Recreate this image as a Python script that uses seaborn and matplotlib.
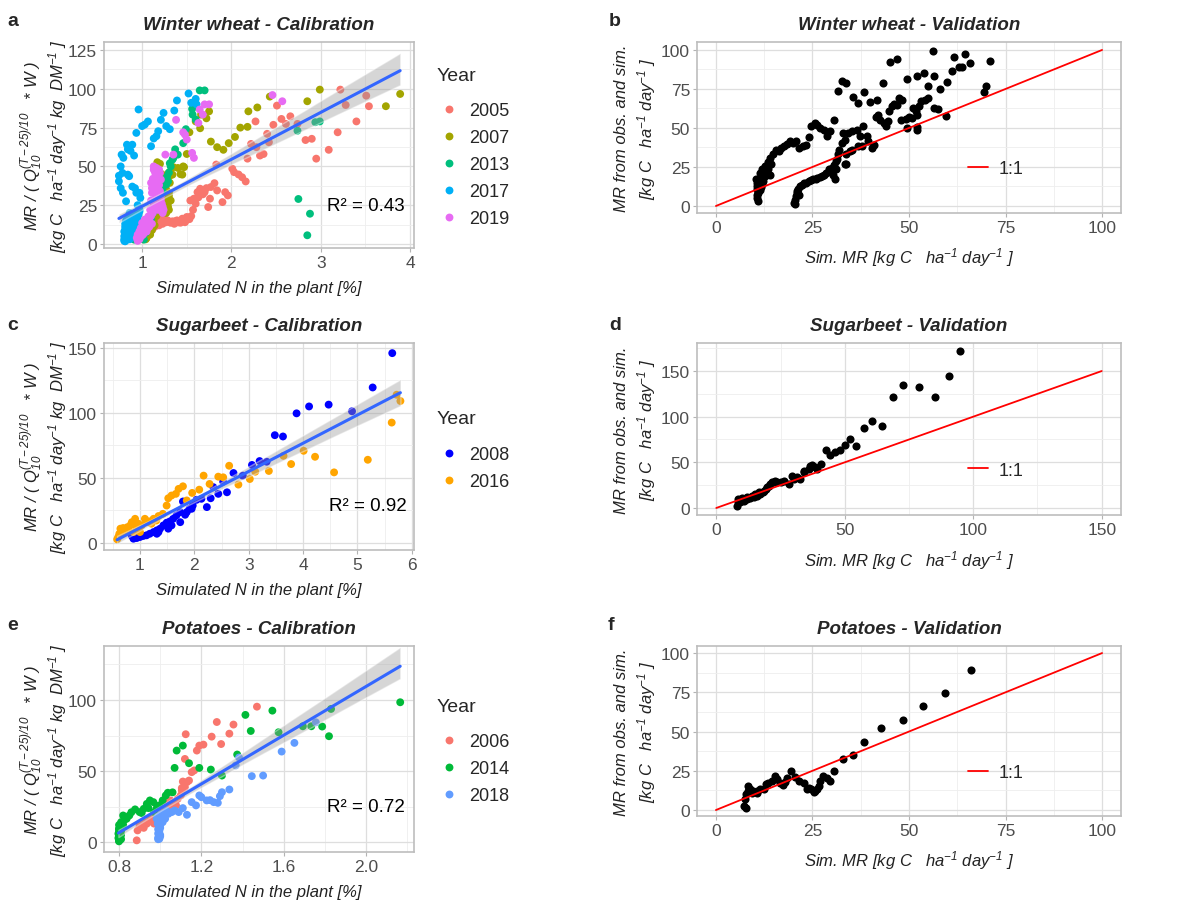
import numpy as np
import pandas as pd
import matplotlib
matplotlib.use("Agg")
import matplotlib.pyplot as plt
import seaborn as sns
from matplotlib.ticker import MultipleLocator

# ---------------- data: Winter wheat calibration (Simulated N [%], MR normalised) ----------------
ww_years = ["2005", "2007", "2013", "2017", "2019"]
ww_colors = ["#F8766D", "#A3A500", "#00BF7D", "#00B0F6", "#E76BF3"]
ww_2005_x = [3.22, 3.28, 3.51, 3.54, 3.40, 3.19, 3.09, 2.95, 2.90, 2.83, 2.74, 2.66, 2.61, 2.56, 2.51,
             2.47, 2.42, 2.40, 2.36, 2.32, 2.27, 2.28, 2.22, 2.18, 2.16, 2.12, 2.08, 2.03, 2.01, 1.96,
             1.93, 1.90, 1.84, 1.81, 1.77, 1.76, 1.74, 1.70, 1.65, 1.62, 1.58, 1.54, 1.83, 1.50, 1.45,
             1.39, 1.34, 1.28, 1.24, 1.20, 1.17, 1.13, 1.09, 1.06, 1.49, 1.43, 1.37, 1.32,
             1.21, 1.26, 1.34, 1.40, 1.47, 1.52,
             1.08, 1.10, 1.12, 1.15, 1.18, 1.22, 1.25, 1.29, 1.31, 1.36, 1.41, 1.44, 1.48, 1.53, 1.55,
             1.57, 1.60, 1.63, 1.68, 1.72,
             1.05, 1.07, 1.11, 1.14, 1.16, 1.19, 1.23, 1.27]
ww_2005_y = [99.5, 89.6, 95.6, 88.8, 79, 72, 60.7, 55, 67.8, 67, 77.4, 82.3, 77.4, 80.6, 89.2,
             76.8, 65.6, 71, 58, 57, 79, 62.4, 64.5, 55, 40.3, 43, 44.8, 46.3, 48.5, 31.3,
             33.4, 27, 34.5, 39.2, 36.7, 29.2, 23.8, 33.4, 35.6, 33.4, 29.2, 28, 51.2, 17.4, 16.3,
             15.2, 14.2, 15.2, 16.3, 18.4, 15.2, 12, 8.8, 5.6, 15.2, 13.7, 14.6, 13.7,
             14.6, 15.7, 14.6, 14.0, 14.6, 16.8,
             7, 10, 12, 14, 16, 17, 16, 15, 14, 13, 14, 15, 14, 16, 18,
             22, 26, 30, 32, 36,
             4, 6, 9, 11, 13, 12, 13, 14]
ww_2007_x = [2.43, 2.85, 2.99, 3.89, 3.73, 2.18, 2.29, 2.19, 2.10, 2.04, 1.97, 1.91, 1.84, 1.77, 1.75,
             1.72, 1.65, 1.53, 1.50, 1.46, 1.43, 1.35, 1.31, 1.30, 1.28, 1.26, 1.22, 1.20, 1.17, 1.02,
             1.06, 1.11, 1.15, 1.24, 1.19, 1.07, 1.66, 1.60, 1.40, 1.45, 1.47, 1.34, 1.31, 1.30, 1.29,
             1.25, 1.27, 1.28, 1.22, 1.30, 1.12, 1.09,
             1.03, 1.05, 1.08, 1.10, 1.13, 1.16, 1.18, 1.20, 1.22, 1.24, 1.26, 1.28, 1.30, 1.32, 1.29,
             1.27, 1.04, 1.07,
             1.01, 1.03, 1.05, 1.09, 1.11, 1.14]
ww_2007_y = [95, 92, 99.5, 96.7, 88.8, 75.5, 88, 85.5, 75, 69, 65, 60.7, 62.4, 66, 85.5,
             81, 74.6, 72, 58, 50, 45, 49.5, 44, 31, 26, 20.6, 37.7, 51.7, 52.7, 4.5,
             9.9, 14, 18.4, 20.6, 26, 7.7, 83.4, 79, 49, 44.7, 49.5, 44.7, 39.4, 33, 26.5,
             30, 35, 40, 45, 22, 11, 6,
             6, 8, 10, 12, 15, 18, 22, 25, 28, 32, 36, 42, 46, 28, 24,
             20, 3, 12,
             3, 5, 4, 8, 9, 12]
ww_2013_x = [1.645, 1.70, 1.565, 1.60, 1.56, 1.49, 1.46, 1.37, 1.40, 1.35, 1.34, 1.31, 1.28, 1.29, 1.27,
             1.18, 1.17, 1.16, 1.06, 1.04, 1.02, 0.91, 2.74, 2.94, 2.99, 2.75, 2.88, 2.85,
             1.00, 1.05, 1.10, 1.12, 1.20, 1.23, 1.25, 1.30, 1.32]
ww_2013_y = [99, 99, 83.4, 80.2, 87, 74, 65, 61, 57.6, 55.5, 54.4, 52, 43.6, 40.4, 38.3,
             31.8, 26.5, 23, 15.7, 7.1, 2.8, 2.8, 73, 78.5, 79, 29, 19.5, 5.6,
             5, 10, 16, 20, 28, 34, 38, 46, 50]
ww_2017_x = [0.96, 0.935, 1.03, 1.065, 1.0, 1.10, 1.13, 1.16, 1.18, 1.21, 1.24, 1.27, 1.31, 1.36, 1.39,
             1.52, 1.55, 1.60, 1.61, 0.83, 0.89, 0.84, 0.87, 0.91, 0.77, 0.79, 0.76, 0.78, 0.74, 0.84,
             0.855, 0.74, 0.76, 0.785, 0.82, 0.89, 0.92, 0.935, 0.97, 0.98, 0.95, 0.95, 0.92, 0.89, 0.855,
             0.84, 0.82, 0.82, 0.81, 0.82, 0.83, 0.87, 0.90, 0.94, 0.97, 0.80,
             0.83, 0.85, 0.86, 0.88, 0.90, 0.92, 0.84, 0.81, 0.86, 0.88,
             0.80, 0.81, 0.82, 0.83, 0.84, 0.85, 0.86, 0.87, 0.88, 0.89, 0.90, 0.91, 0.82, 0.83, 0.84,
             0.85, 0.86, 0.80, 0.81, 0.82, 0.85, 0.87, 0.89, 0.91, 0.93, 0.95, 0.96, 0.97,
             0.80, 0.81, 0.82, 0.83, 0.84, 0.86, 0.87, 0.88, 0.90, 0.92, 0.93, 0.94, 0.81, 0.83, 0.85,
             0.87, 0.89, 0.91]
ww_2017_y = [86.7, 71.6, 77, 79, 76, 63, 68, 69.5, 72.7, 80, 84.5, 76, 74, 86, 92.5,
             97, 91, 93.5, 90, 64, 64, 61, 60, 57, 57.6, 55.5, 50, 45.8, 44, 44.7,
             43.7, 40.4, 36, 33, 27.5, 37, 36, 33, 33, 29.7, 25, 20, 15.7, 13.5, 11.4,
             8.2, 5, 2.8, 1.7, 7.1, 10.3, 14.6, 16.8, 19, 22, 5,
             12, 9, 6, 4, 8, 11, 3, 9, 15, 18,
             3, 4, 6, 7, 9, 10, 12, 13, 15, 16, 17, 18, 12, 14, 16,
             18, 20, 8, 11, 15, 5, 8, 10, 13, 14, 17, 19, 21,
             2, 5, 4, 9, 6, 3, 7, 5, 6, 9, 12, 15, 13, 11, 14,
             11, 13, 10]
ww_2019_x = [1.38, 1.46, 1.48, 1.50, 1.56, 1.58, 1.645, 1.68, 1.70, 1.75, 1.63, 1.26, 1.35, 1.13, 1.16,
             1.19, 1.14, 1.20, 1.10, 1.11, 1.17, 1.21, 1.16, 1.21, 1.15, 1.18, 1.12, 1.07, 1.03, 1.0,
             0.985, 0.97, 0.95, 0.94, 1.016, 1.05, 1.08, 1.24, 1.23, 2.46, 2.57,
             0.96, 0.98, 1.00, 1.02, 1.04, 1.06, 1.08, 1.10, 1.12, 1.13, 1.14, 1.15, 1.16, 1.17, 1.18,
             1.19, 1.20, 1.21, 1.22, 1.23, 1.15, 1.13, 1.12, 1.11, 1.10, 1.09, 1.05, 1.01, 0.97, 1.18,
             0.95, 0.97, 0.99, 1.02, 1.04, 1.06, 1.08, 1.11]
ww_2019_y = [80, 72, 70.5, 67.3, 58.7, 55.5, 86.7, 83.4, 90, 90, 78, 57.6, 57.6, 50, 49,
             48, 46.9, 45.8, 39.4, 33, 37.2, 41.5, 30.8, 28.6, 25.4, 22, 20, 17.8, 15.7, 13.5,
             10.3, 8.2, 6, 3.9, 11.4, 12.5, 14.6, 22, 20, 96, 92,
             5, 7, 9, 10, 12, 14, 16, 18, 22, 25, 28, 32, 35, 40, 43,
             38, 34, 31, 26, 24, 45, 48, 42, 36, 28, 22, 8, 6, 4, 30,
             2, 3, 5, 7, 8, 10, 11, 13]

# ---------------- Winter wheat validation ----------------
ww_val_sim = [10.5, 10.6, 10.7, 10.6, 10.8, 10.7, 10.75, 10.8, 11.0, 11.2, 11.0, 11.4, 11.6, 11.9, 11.3,
              11.6, 12.0, 12.3, 12.6,
              11.3, 12.0, 12.8, 13.4, 13.9, 14.7, 15.6, 16.3, 16.9, 17.7, 18.4, 19.2, 19.9, 20.7, 21.6,
              22.6, 23.3, 24.0, 24.6, 25.6, 26.3, 27.0, 28.0, 28.7, 29.5, 30.6, 13.0, 13.5, 14.2, 14.0,
              20.3, 20.7, 21.0, 21.8, 22.9, 24.0, 25.2, 26.3, 27.4, 28.6, 29.3, 30.0, 30.5, 30.8, 31.2,
              31.6, 31.95, 32.7, 33.3, 33.7, 20.5, 20.9, 21.3, 22.3, 23.4, 24.6, 25.8, 26.9, 28.0, 29.8,
              30.3, 31.0, 31.4, 20.4, 21.5,
              31.7, 32.7, 33.8, 35.5, 36.8, 38.4, 40.0, 41.7, 43.2, 45.1, 47.0, 49.4, 52.0, 53.9, 56.2,
              56.4, 55.0, 57.9, 59.8, 61.1, 61.7, 62.9, 63.8, 64.4, 65.8, 70.9, 69.9, 69.5,
              33.0, 34.2, 35.3, 36.5, 37.2, 38.2, 39.2, 40.5, 41.0, 41.4, 42.1, 42.6, 43.6, 44.0, 44.5,
              44.9, 45.5, 46.1, 47.0, 47.4, 48.3, 47.9, 49.1, 50.0, 50.8, 49.6, 52.1, 52.2, 51.1, 51.8,
              52.6, 53.0, 54.1, 54.9, 52.2, 56.6, 57.5, 37.9, 39.5, 36.7, 35.3, 34.6, 33.8, 33.3, 59.6]
ww_val_obs = [17, 15, 13, 11, 9, 7, 5, 3.2, 12, 14, 8, 16, 18, 20, 10,
              12, 14, 16, 19,
              21.3, 23.4, 25.5, 28, 30.8, 33, 36, 35, 37, 38.7, 40, 41.5, 40.4, 41.5, 37,
              38.3, 39.4, 44, 51, 53, 52, 50, 49, 44.7, 48, 55, 22, 24, 27, 20,
              2.1, 6.4, 9.6, 12.8, 14.9, 16, 17, 18, 19, 21, 23.4, 24.5, 26, 17, 28.7,
              33, 36, 40.4, 42.5, 26.6, 4, 8, 11, 13.5, 15, 16.5, 17.5, 18.5, 20, 22,
              20, 24, 30, 1, 7,
              73.4, 80.4, 79, 70, 66, 73, 66.8, 68, 78.7, 92, 94.3, 81.5, 83, 85.5, 99.6,
              83, 76.6, 75, 79.6, 86.2, 95.3, 89, 89, 97.2, 91.5, 93.2, 77, 72.8,
              46.8, 46.8, 47.9, 49, 44.7, 51, 44.7, 37.2, 39.4, 57, 58.5, 55.3, 53.2, 51, 54.3,
              61, 63.8, 65.3, 65, 69, 68, 55.3, 56, 57, 56.2, 50, 50.6, 49, 62.8, 61,
              64.3, 67, 68, 69.1, 58.5, 62.8, 62, 38.7, 41.5, 38.7, 36, 35, 33, 26.6, 57.4]

# ---------------- Sugarbeet calibration ----------------
sb_years = ["2008", "2016"]
sb_colors = ["#0000FF", "#FFA500"]
sb_2008_x = [5.64, 5.28, 4.90, 4.47, 4.11, 3.88, 3.63, 3.48, 3.33, 3.20, 3.06, 2.89, 2.72, 2.60, 2.53,
             2.44, 2.35, 2.30, 2.23, 2.13, 2.04, 1.97, 1.91, 1.86, 1.79, 1.74, 1.67, 1.61, 1.55, 1.49,
             1.43, 1.37, 1.31, 1.25, 1.18, 1.12, 1.06, 1.00, 0.94, 0.88, 0.85, 1.31, 1.34, 1.52, 1.58,
             1.74, 1.83, 1.95]
sb_2008_y = [146, 119.6, 101.3, 106.4, 105, 99.7, 81.9, 82.9, 62.5, 63, 60, 51.8, 53.8, 39, 47.2,
             37.8, 42.9, 34.4, 27.6, 34, 33.2, 28.8, 26.3, 23.7, 31.9, 23.7, 21.2, 18.6, 16.6, 15.6,
             13.5, 11, 9.7, 8.4, 7.1, 5.9, 5.4, 4.6, 3.8, 3.3, 5.4, 7.1, 8.4, 11, 13.5,
             16, 21.7, 26.3]
sb_2016_x = [5.79, 5.72, 5.63, 5.19, 4.57, 4.22, 4.01, 3.78, 3.64, 3.37, 3.12, 3.02, 2.81, 2.64, 2.53,
             2.44, 2.28, 2.17, 2.09, 1.96, 1.86, 1.79, 1.71, 1.66, 1.58, 1.52, 1.49, 1.42, 1.34, 1.25,
             1.17, 1.09, 1.03, 0.97, 0.91, 0.83, 0.78, 0.72, 0.66, 0.62, 0.60, 0.58, 0.64, 0.69, 0.77,
             0.85, 0.94, 1.12, 1.21, 1.30, 1.00, 0.88]
sb_2016_y = [109.2, 114, 92.6, 64, 54.3, 66.3, 70.9, 60.7, 67, 55.4, 54.8, 49.2, 44.9, 59.4, 50.5,
             51, 45.4, 51.8, 41, 38.5, 32.7, 43.6, 41.6, 37.8, 36.5, 34.4, 28.8, 22.4, 20.7, 18.6,
             16.6, 18.6, 13.5, 14.8, 18.6, 14, 11, 9.7, 8.4, 7.1, 4.6, 2.8, 11, 11.5, 12.2,
             16, 12.2, 16, 14.8, 17.3, 8.4, 8.4]

# ---------------- Sugarbeet validation ----------------
sb_val_sim = [94.8, 90.5, 85.1, 79.0, 72.8, 68.7, 64.6, 60.7, 57.3, 54.5, 52.1, 50.2, 48.0, 46.3, 44.4,
              42.6, 40.8, 39.2, 37.4, 36.0, 34.3, 32.7, 31.4, 29.5, 28.2, 26.3, 25.0, 23.0, 21.7, 20.4,
              19.4, 18.2, 17.2, 15.9, 14.6, 13.3, 12.0, 10.7, 9.4, 8.4, 8.2, 8.4, 10.0, 11.8, 14.0,
              15.2, 16.6, 18.5, 19.8, 21.1, 22.4, 23.7, 30.1, 34.0, 36.6, 38.5]
sb_val_obs = [172, 145, 122, 133, 135, 122, 90, 95, 87.6, 68, 75.5, 69, 64, 61, 58.4,
              64, 48.5, 42.7, 47.4, 42.7, 40.9, 31.8, 33.6, 35.4, 26.3, 30, 28, 30, 28, 24.5,
              20.8, 17.9, 15.3, 13.5, 11.7, 10.6, 9.9, 8, 6.9, 6.2, 2.6, 9.9, 10.6, 11.7, 13.5,
              15.3, 17.2, 19, 22.6, 26.3, 28, 28, 31.8, 39, 46.3, 44.5]

# ---------------- Potatoes calibration ----------------
po_years = ["2006", "2014", "2018"]
po_colors = ["#F8766D", "#00BA38", "#619CFF"]
po_2006_x = [0.886, 0.89, 0.90, 0.92, 0.935, 0.95, 0.964, 0.98, 0.99, 1.016, 1.03, 1.05, 1.064, 1.077, 1.085,
             1.10, 1.105, 1.11, 1.13, 1.14, 1.153, 1.165, 1.178, 1.19, 1.21, 1.12, 1.124, 1.25, 1.275, 1.296,
             1.336, 1.356, 1.47, 1.105, 1.12, 1.007, 1.03, 1.05,
             0.90, 0.92, 0.94, 0.96, 0.97]
po_2006_y = [1.2, 8.2, 10.5, 14, 12.9, 15.7, 17.6, 18.7, 25.3, 25.8, 28, 29.3, 27.6, 25.8, 30.4,
             32.8, 38, 42.6, 42.2, 43.3, 49.2, 50.4, 64.4, 67.9, 68.6, 58.5, 75.9, 74.2, 84.5, 69,
             76.3, 82.7, 95.3, 36.3, 38.6, 23, 24.6, 23.4,
             12, 10, 14, 16, 13]
po_2014_x = [2.166, 1.83, 1.82, 1.787, 1.734, 1.693, 1.575, 1.545, 1.44, 1.414, 1.374, 1.30, 1.246, 1.19, 1.14,
             1.11, 1.08, 1.07, 1.06, 1.037, 1.027, 1.012, 0.996, 0.983, 0.967, 0.95, 0.935, 0.92, 0.91, 0.90,
             0.878, 0.86, 0.85, 0.837, 0.824, 0.81, 0.80, 0.797, 0.797, 0.80, 0.805, 0.82, 0.943, 0.97,
             0.80, 0.80, 0.80, 0.80, 0.81, 0.81, 0.82, 0.80,
             0.80, 0.80, 0.81, 0.80, 0.81]
po_2014_y = [98.4, 93.7, 74.5, 81.3, 81.5, 81.5, 77.3, 92.5, 78.2, 89.5, 61.6, 46.8, 51, 52.2, 55.5,
             67.9, 64.4, 52.2, 35, 34.7, 32.8, 29.3, 25.8, 23.9, 28.1, 29.3, 26.9, 23.4, 20.4, 21.1,
             23, 21, 18.7, 16.4, 15.2, 14, 9.4, 5.9, 2.8, 0.5, 11.7, 18.7, 23.9, 21.1,
             3, 6, 9, 12, 2, 8, 12, 1,
             4, 7, 5, 2, 10]
po_2018_x = [1.756, 1.652, 1.59, 1.50, 1.445, 1.383, 1.367, 1.336, 1.30, 1.29, 1.28, 1.26, 1.242, 1.226, 1.20,
             1.19, 1.174, 1.153, 1.13, 1.11, 1.09, 1.07, 1.056, 1.04, 1.024, 1.012, 1.00, 0.996, 0.996, 0.996,
             1.00, 0.983, 0.988, 1.016, 1.03,
             0.99, 0.99, 0.99, 1.00, 1.00, 0.995, 1.00, 1.005, 0.99,
             0.99, 1.00, 0.995, 1.00]
po_2018_y = [84.3, 69.8, 63.7, 46.8, 46.4, 59.5, 53.9, 37, 35.1, 32.3, 27.6, 28.1, 29.5, 29.3, 31.6,
             32.8, 25.8, 28.1, 19.2, 23.9, 21.1, 22.2, 21.1, 19.9, 16.4, 14, 11.7, 8.2, 4.7, 2.3,
             18.7, 16.4, 12.9, 19.9, 22.2,
             3, 6, 9, 5, 14, 11, 16, 20, 18,
             2, 4, 7, 10]

# ---------------- Potatoes validation ----------------
po_val_sim = [66.0, 59.3, 53.5, 48.4, 42.8, 38.4, 35.6, 33.0, 30.7, 29.6, 28.7, 27.8, 27.0, 26.1, 25.3,
              24.6, 24.0, 22.8, 21.6, 20.5, 19.4, 18.4, 17.3, 16.6, 15.3, 14.5, 13.6, 12.5, 11.5, 10.6,
              9.7, 8.9, 8.3, 7.8, 7.6, 7.3, 7.7, 8.4, 9.3, 10.6, 13.0, 15.8, 17.9, 23.5, 25.7, 26.6]
po_val_obs = [89.4, 74.7, 66.4, 57.2, 52.3, 43.6, 35.1, 32.6, 24.9, 18.5, 20.6, 21.7, 18.5, 13.2, 11.5,
              13.2, 14.3, 17.4, 18.5, 21.3, 24.9, 20.6, 15.7, 17.4, 21.7, 18.5, 17.4, 13.2, 13.2, 12.1,
              12.1, 13.6, 12.1, 10.0, 6.8, 2.6, 1.5, 15.3, 11.0, 11.0, 16.4, 19.6, 17.9, 13.6, 12.1, 15.3]

# 1:1 reference lines
one_to_one_100 = [0, 100]
one_to_one_150 = [0, 150]

r2_labels = ["R² = 0.43", "R² = 0.92", "R² = 0.72"]

# ---------------- styling ----------------
sns.set_theme(style="whitegrid")
plt.rcParams["font.family"] = ["Liberation Sans", "DejaVu Sans"]
plt.rcParams["mathtext.fontset"] = "custom"
plt.rcParams["mathtext.rm"] = "Liberation Sans:italic"
plt.rcParams["mathtext.it"] = "Liberation Sans:italic"
plt.rcParams["mathtext.default"] = "regular"

W, H = 1198, 903
TICK_C = "#4D4D4D"


def box(l, t, r, b):
    return [l / W, 1 - b / H, (r - l) / W, (b - t) / H]


def frame(ax, xlim, ylim, xmaj, xmin, ymaj, ymin):
    ax.set_xlim(*xlim)
    ax.set_ylim(*ylim)
    ax.xaxis.set_major_locator(MultipleLocator(xmaj))
    ax.xaxis.set_minor_locator(MultipleLocator(xmin))
    ax.yaxis.set_major_locator(MultipleLocator(ymaj))
    ax.yaxis.set_minor_locator(MultipleLocator(ymin))
    ax.set_facecolor("white")
    ax.grid(which="major", color="#DEDEDE", lw=0.9)
    ax.grid(which="minor", color="#EEEEEE", lw=0.6)
    ax.set_axisbelow(True)
    for s in ax.spines.values():
        s.set_color("#BDBDBD")
        s.set_linewidth(1.2)
    ax.tick_params(which="major", length=3, width=0.8, color="#B3B3B3", labelcolor=TICK_C,
                   labelsize=12.5, pad=2, bottom=True, left=True)
    ax.tick_params(which="minor", length=0)


YLAB_CAL = ("MR / ( Q$_{10}^{(T-25)/10}$   * W )\n"
            "[kg C   ha$^{-1}$ day$^{-1}$ kg  DM$^{-1}$ ]")
YLAB_VAL = "MR from obs. and sim.\n[kg C   ha$^{-1}$ day$^{-1}$ ]"
XLAB_CAL = "Simulated N in the plant [%]"
XLAB_VAL = "Sim. MR [kg C   ha$^{-1}$ day$^{-1}$ ]"


def calib(ax, xs, ys, years, colors, title, r2, r2xy, leg_y):
    frames = [pd.DataFrame({"N": x, "MR": y, "Year": yr}) for x, y, yr in zip(xs, ys, years)]
    df = pd.concat(frames, ignore_index=True)
    sns.scatterplot(data=df, x="N", y="MR", hue="Year", hue_order=years,
                    palette=dict(zip(years, colors)), s=32, linewidth=0, ax=ax, zorder=3)
    sns.regplot(data=df, x="N", y="MR", scatter=False, ax=ax, color="#3366FF", ci=95,
                n_boot=500, seed=0, line_kws={"lw": 2.2, "zorder": 5})
    band = ax.collections[-1]
    band.set_facecolor("#999999")
    band.set_alpha(0.4)
    band.set_zorder(4)
    ax.set_title(title, fontsize=13.5, fontweight="bold", fontstyle="italic", pad=9)
    ax.set_xlabel(XLAB_CAL, fontsize=12, fontstyle="italic", color="#222222")
    ax.set_ylabel(YLAB_CAL, fontsize=12, fontstyle="italic", color="#222222", linespacing=1.08)
    ax.yaxis.set_label_coords(-0.113, 0.5)
    ax.xaxis.set_label_coords(0.5, -0.155)
    ax.text(r2xy[0], r2xy[1], r2, fontsize=13.5, ha="center", va="center", color="black", zorder=6)
    sns.move_legend(ax, "upper left", bbox_to_anchor=(1.074, leg_y), frameon=False, title="Year",
                    fontsize=13, title_fontsize=14, handlelength=1.3, handletextpad=0.5,
                    labelspacing=0.55, borderpad=0, borderaxespad=0, alignment="left")
    leg = ax.get_legend()
    leg._legend_box.sep = 13.5


def valid(ax, sim, obs, ref, leg_y):
    sns.scatterplot(x=sim, y=obs, color="black", s=34, linewidth=0, ax=ax, zorder=3)
    sns.lineplot(x=ref, y=ref, color="red", lw=1.3, ax=ax, label="1:1", zorder=4)
    ax.legend(loc="center left", bbox_to_anchor=(0.639, leg_y), frameon=False, fontsize=13,
              handlelength=1.1, handletextpad=0.6, borderpad=0, borderaxespad=0)
    ax.set_xlabel(XLAB_VAL, fontsize=12, fontstyle="italic", color="#222222")
    ax.set_ylabel(YLAB_VAL, fontsize=12, fontstyle="italic", color="#222222", linespacing=1.35)
    ax.yaxis.set_label_coords(-0.093, 0.5)
    ax.xaxis.set_label_coords(0.5, -0.19)


fig = plt.figure(figsize=(W / 100, H / 100), dpi=100)
fig.patch.set_facecolor("white")

ax_a = fig.add_axes(box(104, 43, 414, 249))
ax_b = fig.add_axes(box(697, 43, 1121, 214))
ax_c = fig.add_axes(box(104, 344, 414, 551))
ax_d = fig.add_axes(box(697, 344, 1121, 516))
ax_e = fig.add_axes(box(104, 647, 414, 853))
ax_f = fig.add_axes(box(697, 647, 1121, 817))

calib(ax_a, [ww_2005_x, ww_2007_x, ww_2013_x, ww_2017_x, ww_2019_x],
      [ww_2005_y, ww_2007_y, ww_2013_y, ww_2017_y, ww_2019_y],
      ww_years, ww_colors, "Winter wheat - Calibration", r2_labels[0], (3.5, 25), 0.88)
frame(ax_a, (0.573, 4.045), (-2.6, 130.2), 1, 0.5, 25, 12.5)

calib(ax_c, [sb_2008_x, sb_2016_x], [sb_2008_y, sb_2016_y],
      sb_years, sb_colors, "Sugarbeet - Calibration", r2_labels[1], (5.2, 29), 0.675)
frame(ax_c, (0.338, 6.04), (-5.4, 153.8), 1, 0.5, 50, 25)

calib(ax_e, [po_2006_x, po_2014_x, po_2018_x], [po_2006_y, po_2014_y, po_2018_y],
      po_years, po_colors, "Potatoes - Calibration", r2_labels[2], (2.0, 25), 0.75)
frame(ax_e, (0.727, 2.233), (-7, 138), 0.4, 0.2, 50, 25)

valid(ax_b, ww_val_sim, ww_val_obs, one_to_one_100, 0.258)
ax_b.set_title("Winter wheat - Validation", fontsize=13.5, fontweight="bold", fontstyle="italic", pad=9)
frame(ax_b, (-4.9, 104.9), (-4.5, 105.1), 25, 12.5, 25, 12.5)

valid(ax_d, sb_val_sim, sb_val_obs, one_to_one_150, 0.26)
ax_d.set_title("Sugarbeet - Validation", fontsize=13.5, fontweight="bold", fontstyle="italic", pad=9)
frame(ax_d, (-7.5, 157.5), (-7.7, 180.7), 50, 25, 50, 25)

valid(ax_f, po_val_sim, po_val_obs, one_to_one_100, 0.255)
ax_f.set_title("Potatoes - Validation", fontsize=13.5, fontweight="bold", fontstyle="italic", pad=9)
frame(ax_f, (-4.9, 104.9), (-3.8, 104.5), 25, 12.5, 25, 12.5)

for lab, (px, py) in zip("abcdef", [(13, 22), (615, 22), (13, 325), (615, 325), (13, 626), (611, 626)]):
    fig.text(px / W, 1 - py / H, lab, fontsize=14, fontweight="bold", ha="center", va="center")

fig.savefig("out.png", dpi=100, facecolor="white")
